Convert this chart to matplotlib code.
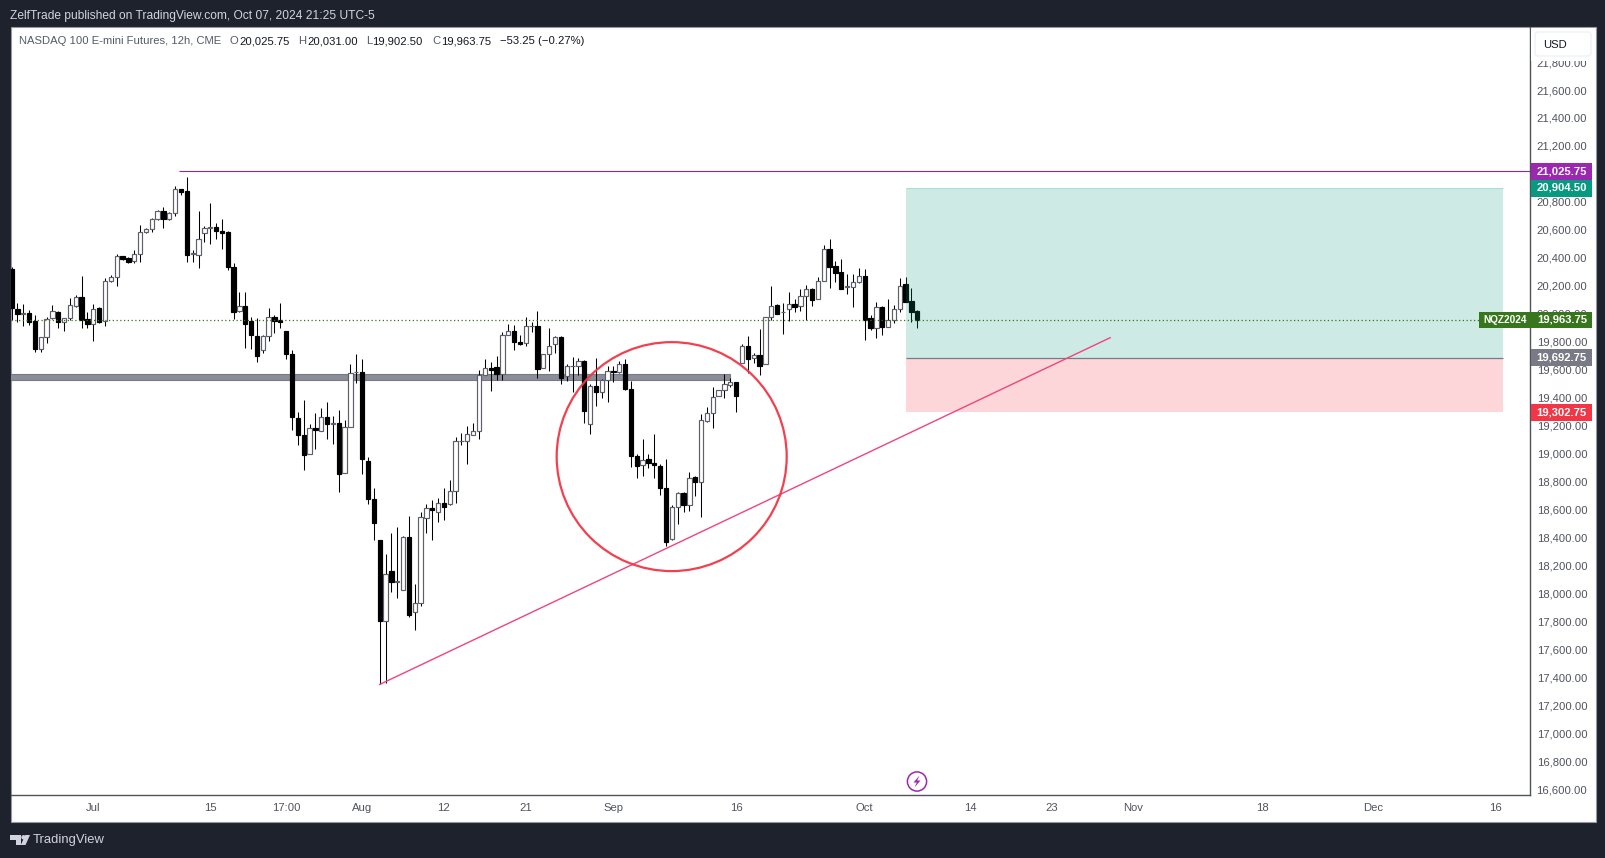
import matplotlib
matplotlib.use("Agg")
import matplotlib.pyplot as plt
from matplotlib.patches import Rectangle, Ellipse, Circle, Polygon, FancyBboxPatch
from matplotlib.transforms import ScaledTranslation

FONT = "Liberation Sans"
plt.rcParams["font.family"] = FONT

# per 12h candle
body_tops = [
 20321,20036,20005,20007,19948,19833,19962,20019,20014,19969,20062,20119,20121,19962,20033,20043,20233,20262,20412,20412,
 20400,20426,20583,20605,20676,20733,20736,20719,20890,20893,20879,20433,20533,20617,20619,20621,20593,20586,20336,20055,
 20057,19948,19843,19840,19976,19976,19955,19879,19714,19257,19133,19183,19183,19262,19262,19219,19219,19190,19576,19586,
 19583,18948,18676,18386,18140,18162,18088,18405,18405,17933,18548,18610,18612,18648,18648,18733,19090,19093,19140,19162,
 19562,19612,19612,19619,19848,19876,19876,19795,19912,19914,19914,19712,19769,19833,19833,19626,19629,19662,19662,19483,
 19483,19526,19590,19590,19638,19640,19462,18983,18952,18964,18933,18912,18757,18619,18719,18719,18826,18836,19240,19290,
 19405,19455,19498,19512,19512,19769,19769,19705,19705,19976,20055,20064,20014,20067,20071,20126,20176,20176,20233,20462,
 20464,20343,20300,20200,20226,20269,20269,19969,20048,20048,19955,20033,20198,20212,20093,20019]
body_bottoms = [
 20045,20002,20002,19945,19745,19748,19833,19967,19945,19940,19967,20055,19957,19924,19926,19945,19948,20233,20262,20393,
 20374,20376,20426,20583,20605,20676,20679,20676,20719,20874,20424,20431,20424,20576,20617,20593,20581,20338,20010,20017,
 19924,19845,19695,19740,19840,19952,19938,19710,19260,19131,18988,18995,19167,19160,19214,19212,18852,18862,19190,19581,
 18960,18674,18502,17802,17805,18081,18083,18026,17845,17869,17933,18540,18595,18583,18617,18640,18733,19088,19090,19133,
 19162,19562,19595,19567,19571,19848,19795,19786,19788,19910,19602,19612,19712,19783,19538,19555,19624,19626,19302,19212,
 19438,19440,19526,19581,19581,19460,18981,18910,18919,18931,18917,18752,18367,18388,18619,18631,18631,18795,18798,19231,
 19290,19412,19455,19490,19410,19645,19674,19683,19624,19638,19974,20002,20010,20033,20050,20055,20126,20102,20105,20233,
 20338,20295,20179,20195,20195,20226,19957,19902,19902,19909,19909,19957,20031,20088,20010,19957]
wick_highs = [
 20333,20076,20071,20029,19993,19833,19979,20064,20021,19969,20114,20136,20271,20014,20071,20050,20257,20279,20429,20412,
 20405,20457,20636,20614,20686,20743,20764,20729,20914,20893,20979,20457,20736,20629,20793,20650,20679,20595,20364,20157,
 20157,19979,19971,19850,20043,19993,20079,19879,19740,19300,19386,19214,19293,19326,19371,19267,19314,19243,19643,19714,
 19679,18979,18757,18386,18286,18436,18479,18410,18557,18071,18586,18640,18671,18686,18757,18812,19121,19148,19200,19221,
 19600,19676,19657,19695,19867,19929,19919,19850,19976,19945,20021,19712,19898,19843,19843,19643,19693,19686,19671,19500,
 19686,19536,19629,19624,19664,19676,19521,19000,19107,19000,19143,18929,18964,18636,18729,18729,18871,18843,19283,19336,
 19476,19455,19571,19543,19512,19783,19840,19719,19893,19976,20200,20071,20079,20155,20107,20179,20205,20186,20264,20493,
 20536,20376,20390,20283,20283,20329,20319,19993,20086,20057,20107,20064,20255,20264,20183,20024]
wick_lows = [
 19957,19945,19910,19917,19724,19724,19788,19962,19902,19874,19957,20052,19902,19902,19809,19931,19910,20231,20202,20386,
 20364,20360,20374,20581,20588,20674,20617,20674,20700,20850,20374,20367,20331,20510,20502,20538,20460,20310,19964,20014,
 19757,19752,19652,19717,19809,19864,19902,19679,19167,19059,18881,18995,19036,19160,19107,19071,18724,18862,19190,19505,
 18852,18638,18381,17350,17362,18014,17967,18026,17831,17738,17914,18431,18381,18510,18524,18633,18645,19062,18924,19131,
 19105,19562,19445,19524,19524,19848,19738,19779,19767,19869,19538,19612,19588,19719,19500,19517,19438,19560,19221,19138,
 19338,19395,19367,19510,19579,19452,18907,18824,18838,18895,18824,18702,18338,18381,18495,18581,18588,18700,18545,19226,
 19181,19410,19395,19476,19295,19645,19574,19650,19560,19638,19957,20002,19857,19952,20014,20021,19955,20057,20105,20233,
 20186,20231,20179,20143,20050,20219,19814,19881,19829,19852,19909,19933,20010,20081,19945,19896]
is_up = [
 0,0,1,0,0,1,1,1,0,1,1,1,0,0,1,0,1,1,1,0,
 0,1,1,1,1,1,0,1,1,0,0,1,1,1,1,0,0,0,0,1,
 0,0,0,1,1,0,0,0,0,0,0,1,0,1,0,1,0,1,1,1,
 0,0,0,0,1,0,1,1,0,1,1,1,0,1,0,1,1,1,1,1,
 1,1,0,0,1,1,0,0,1,1,0,1,1,1,0,1,1,1,0,1,
 0,1,1,0,1,0,0,0,1,0,0,0,0,1,1,0,1,0,1,1,
 1,1,1,1,0,1,0,1,0,1,1,0,1,1,0,1,1,0,1,1,
 0,0,0,1,1,1,0,0,1,0,1,1,1,0,0,0]
READ_OFFSET = 7  # the readings above sit 7 points below the labelled price scale

price_ticks = [16600 + 200 * k for k in range(27)]
hidden_ticks = [21000]  # entirely behind the price tags in the reference
time_positions = [14, 34, 47, 60, 74, 88, 103, 124, 146, 164, 178, 192, 214, 233, 254]
time_labels = ["Jul", "15", "17:00", "Aug", "12", "21", "Sep", "16", "Oct", "14", "23", "Nov", "18", "Dec", "16"]

last_price = 19963.75
resistance_price = 21025.75
target_price = 20904.50
entry_price = 19692.75
stop_price = 19302.75
zone_top, zone_bottom = 19578, 19531

W, H = 1606, 858
BG = "#1e222d"
GRAY = "#50535e"
fig = plt.figure(figsize=(W / 100, H / 100), dpi=100, facecolor=BG)


def box(l, t, r, b):
    return [l / W, 1 - b / H, (r - l) / W, (b - t) / H]


# white pane behind everything
back = fig.add_axes([0, 0, 1, 1], zorder=0)
back.set_xlim(0, W); back.set_ylim(H, 0); back.axis("off")
back.add_patch(Rectangle((11, 27), 1585, 795, fc="white", ec="#9598a1", lw=0.8))

# main chart
ax = fig.add_axes(box(11, 27, 1530.3, 795), zorder=1, facecolor="none")
ax.set_xlim(-0.09, 259.9)
ax.set_ylim(16566.7, 22057.6)
for s in ("left", "top"):
    ax.spines[s].set_visible(False)
for s in ("right", "bottom"):
    ax.spines[s].set_color(GRAY); ax.spines[s].set_linewidth(1.0)

x = list(range(len(body_tops)))
# support zone
ax.add_patch(Rectangle((-1, zone_bottom), 124, zone_top - zone_bottom, fc="#8b8d99", ec="#787b86", lw=0.8, zorder=1))
# candles
ax.vlines(x, [v + READ_OFFSET for v in wick_lows], [v + READ_OFFSET for v in wick_highs],
          color="black", lw=0.75, zorder=2)
for i in x:
    up = is_up[i]
    ax.bar(i, body_tops[i] - body_bottoms[i], bottom=body_bottoms[i] + READ_OFFSET, width=0.74,
           fc="white" if up else "black", ec="#5d606b" if up else "black", lw=0.85, zorder=3)

# position tool
ax.add_patch(Rectangle((153.06, entry_price), 102.1, target_price - entry_price, fc=(8/255, 153/255, 129/255, 0.2),
                       ec="none", zorder=4))
ax.add_patch(Rectangle((153.06, stop_price), 102.1, entry_price - stop_price, fc=(242/255, 54/255, 69/255, 0.2),
                       ec="none", zorder=4))
ax.hlines(target_price, 153.06, 255.16, color="#a8e0d3", lw=0.8, zorder=4)
ax.hlines(entry_price, 153.06, 255.16, color="#787b86", lw=0.9, zorder=5)

# lines
ax.hlines(last_price, -0.09, 251.1, color="#38761d", lw=0.9, linestyles=(0, (1, 2)), zorder=5)
ax.hlines(resistance_price, 28.6, 259.9, color="#8e2a9b", lw=0.8, zorder=5)
ax.plot([63, 188], [17357, 19836], color="#f0457c", lw=1.0, zorder=6)
ax.add_patch(Ellipse((112.97, 18986), 39.36, 1637, fc="none", ec="#f23645", lw=1.6, alpha=0.95, zorder=6))

# axes ticks
ax.yaxis.tick_right()
ax.set_yticks(price_ticks)
ax.set_yticklabels(["" if p in hidden_ticks else f"{p:,.2f}" for p in price_ticks], ha="right", fontsize=8.1, color=GRAY)
ax.tick_params(axis="y", length=0, pad=41)
up_1px = ScaledTranslation(0, 1 / 100, fig.dpi_scale_trans)
for lab in ax.get_yticklabels():
    lab.set_transform(lab.get_transform() + up_1px)
ax.set_xticks(time_positions)
ax.set_xticklabels(time_labels, fontsize=8.1, color=GRAY)
ax.tick_params(axis="x", length=0, pad=5.5)

# overlay in pixel units for the chrome
ov = fig.add_axes([0, 0, 1, 1], zorder=5, facecolor="none")
ov.set_xlim(0, W); ov.set_ylim(H, 0); ov.axis("off")


def price_px(p):
    return 91 + (21600 - p) * 0.13987


ov.add_patch(Rectangle((1531, 27.5), 64, 33, fc="white", ec="none"))
ov.add_patch(FancyBboxPatch((1535, 32), 56, 24, boxstyle="round,pad=0,rounding_size=3", fc="white", ec="#f0f3fa", lw=1.2))
ov.text(1543, 44.5, "USD", fontsize=8.1, color="#131722", va="center", ha="left")

tags = [(resistance_price, "#9c27b0"), (target_price, "#089981"), (last_price, "#38761d"),
        (entry_price, "#787b86"), (stop_price, "#f23645")]
for p, c in tags:
    yc = price_px(p)
    ov.add_patch(Rectangle((1531, yc - 8.3), 61, 16.6, fc=c, ec="none"))
    ov.text(1587, yc - 0.3, f"{p:,.2f}", fontsize=8.1, color="white", fontweight="bold", ha="right", va="center")
yc = price_px(last_price)
ov.add_patch(Rectangle((1479, yc - 8.3), 52, 16.6, fc="#38761d", ec="none"))
ov.text(1505, yc - 0.3, "NQZ2024", fontsize=7.3, color="white", fontweight="bold", ha="center", va="center")

# header
ov.text(10, 15.5, "ZelfTrade published on TradingView.com, Oct 07, 2024 21:25 UTC-5", fontsize=8.65, color="#d1d4dc", va="center")
LAB = "#555a66"
VAL = "#131722"
y_leg = 41.5
ov.text(18.6, y_leg, "NASDAQ 100 E-mini Futures, 12h, CME", fontsize=8.1, color=LAB, va="center")
for xp, s, c in [(230, "O", LAB), (239, "20,025.75", VAL), (298.4, "H", LAB), (307.5, "20,031.00", VAL),
                 (366, "L", LAB), (372.3, "19,902.50", VAL), (432.8, "C", LAB), (440.7, "19,963.75", VAL),
                 (500, "\u221253.25 (\u22120.27%)", VAL)]:
    ov.text(xp, y_leg, s, fontsize=8.1, color=c, va="center")

# footer logo
LOGO = "#d1d4dc"
ov.add_patch(Polygon([(10, 835), (21, 835), (21, 845), (16, 845), (16, 840), (10, 840)], fc=LOGO, ec="none"))
ov.add_patch(Circle((23.5, 837.3), 2.2, fc=LOGO, ec="none"))
ov.add_patch(Polygon([(30, 835), (25.5, 845), (20.8, 845), (25.3, 835)], fc=LOGO, ec="none"))
ov.text(33, 840.5, "TradingView", fontsize=9.4, color=LOGO, va="center")

# event icon
ov.add_patch(Circle((917, 781.5), 9.6, fc="white", ec="#9c27b0", lw=1.1))
ov.add_patch(Polygon([(919.5, 775.5), (913.5, 782.5), (916.8, 782.5), (914.5, 787.5), (920.5, 780.5), (917.2, 780.5)],
                     fc="#9c27b0", ec="none"))

fig.savefig("out.png", dpi=100, facecolor=BG)
